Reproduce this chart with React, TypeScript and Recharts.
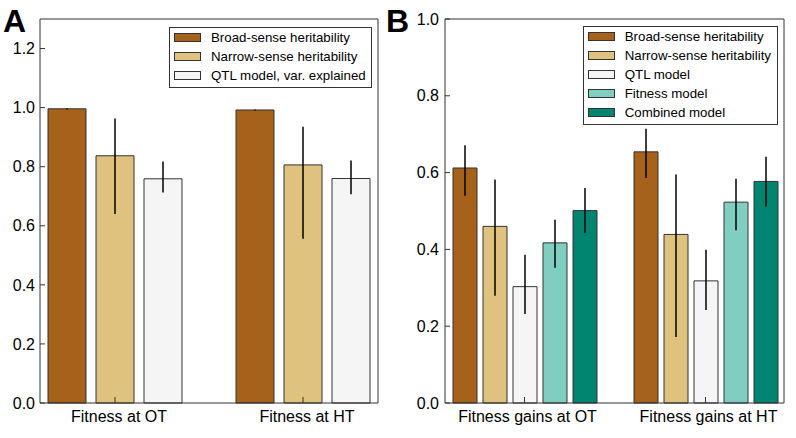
import { Bar, BarChart, ErrorBar, Legend, XAxis, YAxis } from "recharts";

const FONT = '"Liberation Sans", Arial, sans-serif';

// panel A
const categoriesA = ["Fitness at OT", "Fitness at HT"];
const broadA = [0.996, 0.992];
const broadALow = [0.994, 0.99];
const broadAHigh = [0.998, 0.994];
const narrowA = [0.837, 0.806];
const narrowALow = [0.64, 0.556];
const narrowAHigh = [0.963, 0.935];
const qtlA = [0.759, 0.76];
const qtlALow = [0.713, 0.707];
const qtlAHigh = [0.818, 0.821];
const yTicksA = [0, 0.2, 0.4, 0.6, 0.8, 1.0, 1.2];

// panel B
const categoriesB = ["Fitness gains at OT", "Fitness gains at HT"];
const broadB = [0.612, 0.654];
const broadBLow = [0.54, 0.586];
const broadBHigh = [0.671, 0.714];
const narrowB = [0.46, 0.439];
const narrowBLow = [0.279, 0.172];
const narrowBHigh = [0.582, 0.595];
const qtlB = [0.303, 0.318];
const qtlBLow = [0.232, 0.242];
const qtlBHigh = [0.386, 0.399];
const fitnessB = [0.417, 0.523];
const fitnessBLow = [0.352, 0.45];
const fitnessBHigh = [0.477, 0.584];
const combinedB = [0.501, 0.577];
const combinedBLow = [0.442, 0.512];
const combinedBHigh = [0.56, 0.641];
const yTicksB = [0, 0.2, 0.4, 0.6, 0.8, 1.0];

const colors = {
  broad: "#a6611a",
  narrow: "#dfc27d",
  qtl: "#f5f5f5",
  fitness: "#80cdc1",
  combined: "#018571",
};

type Series = {
  key: string;
  name: string;
  color: string;
  values: number[];
  low: number[];
  high: number[];
};

const seriesA: Series[] = [
  { key: "broad", name: "Broad-sense heritability", color: colors.broad, values: broadA, low: broadALow, high: broadAHigh },
  { key: "narrow", name: "Narrow-sense heritability", color: colors.narrow, values: narrowA, low: narrowALow, high: narrowAHigh },
  { key: "qtl", name: "QTL model, var. explained", color: colors.qtl, values: qtlA, low: qtlALow, high: qtlAHigh },
];

const seriesB: Series[] = [
  { key: "broad", name: "Broad-sense heritability", color: colors.broad, values: broadB, low: broadBLow, high: broadBHigh },
  { key: "narrow", name: "Narrow-sense heritability", color: colors.narrow, values: narrowB, low: narrowBLow, high: narrowBHigh },
  { key: "qtl", name: "QTL model", color: colors.qtl, values: qtlB, low: qtlBLow, high: qtlBHigh },
  { key: "fitness", name: "Fitness model", color: colors.fitness, values: fitnessB, low: fitnessBLow, high: fitnessBHigh },
  { key: "combined", name: "Combined model", color: colors.combined, values: combinedB, low: combinedBLow, high: combinedBHigh },
];

function buildRows(categories: string[], series: Series[]) {
  return categories.map((name, i) => {
    const row: Record<string, unknown> = { name };
    series.forEach((s) => {
      row[s.key] = s.values[i];
      row[s.key + "Err"] = [s.values[i] - s.low[i], s.high[i] - s.values[i]];
    });
    return row;
  });
}

const EDGE = "#333";

// legend in series order (recharts sorts by name otherwise)
const legendContent = (width: number, series: Series[]) => (props: any) => {
  const order = series.map((s) => s.name);
  const items = [...(props.payload || [])].sort(
    (a: any, b: any) => order.indexOf(a.value) - order.indexOf(b.value)
  );
  return (
    <div
      style={{
        width,
        boxSizing: "border-box",
        border: `1px solid ${EDGE}`,
        background: "#fff",
        padding: "0 0 2px 4px",
        fontFamily: FONT,
        fontSize: 13.3,
        color: "#000",
        textAlign: "left",
      }}
    >
      {items.map((item: any) => (
        <div key={item.value} style={{ display: "flex", alignItems: "center", height: 19 }}>
          <span
            style={{
              display: "inline-block",
              width: 27,
              height: 9,
              boxSizing: "border-box",
              background: item.color,
              border: `1px solid ${EDGE}`,
              marginRight: 10,
            }}
          />
          <span style={{ whiteSpace: "nowrap" }}>{item.value}</span>
        </div>
      ))}
    </div>
  );
};

type PanelProps = {
  categories: string[];
  series: Series[];
  yMax: number;
  yTicks: number[];
  margin: { top: number; right: number; bottom: number; left: number };
  pad: { left: number; right: number };
  barSize: number;
  barGap: number;
  barCategoryGap: number;
  labelShift: number;
  yTickMargin: number;
  legendBox: { left: number; top: number; width: number };
};

function Panel(p: PanelProps) {
  const rows = buildRows(p.categories, p.series);
  const axisLine = { stroke: EDGE, strokeWidth: 1 };
  return (
    <BarChart
      width={398}
      height={438}
      data={rows}
      margin={p.margin}
      barSize={p.barSize}
      barGap={p.barGap}
      barCategoryGap={p.barCategoryGap}
      style={{ fontFamily: FONT }}
    >
      <XAxis
        dataKey="name"
        height={1}
        padding={p.pad}
        interval={0}
        tickSize={-6}
        tickMargin={14}
        axisLine={axisLine}
        tickLine={axisLine}
        tick={{ fill: "#000", fontSize: 16, dx: p.labelShift }}
      />
      <XAxis
        xAxisId="top"
        dataKey="name"
        orientation="top"
        height={1}
        padding={p.pad}
        interval={0}
        tickSize={-6}
        axisLine={axisLine}
        tickLine={axisLine}
        tick={false}
      />
      <YAxis
        width={1}
        domain={[0, p.yMax]}
        ticks={p.yTicks}
        interval={0}
        tickSize={-5}
        tickMargin={p.yTickMargin}
        axisLine={axisLine}
        tickLine={axisLine}
        tick={{ fill: "#000", fontSize: 16 }}
        tickFormatter={(v: number) => v.toFixed(1)}
      />
      <YAxis
        yAxisId="r"
        orientation="right"
        width={1}
        domain={[0, p.yMax]}
        ticks={p.yTicks}
        interval={0}
        tickSize={-5}
        axisLine={axisLine}
        tickLine={axisLine}
        tick={false}
      />
      <Legend
        layout="horizontal"
        verticalAlign="middle"
        align="center"
        content={legendContent(p.legendBox.width, p.series)}
        wrapperStyle={{ left: p.legendBox.left, top: p.legendBox.top, width: p.legendBox.width }}
      />
      {p.series.map((s) => (
        <Bar
          key={s.key}
          dataKey={s.key}
          name={s.name}
          fill={s.color}
          stroke={EDGE}
          strokeWidth={1}
          isAnimationActive={false}
        >
          <ErrorBar
            dataKey={s.key + "Err"}
            direction="y"
            width={0}
            stroke="#000"
            strokeWidth={1.5}
            isAnimationActive={false}
          />
        </Bar>
      ))}
    </BarChart>
  );
}

const panelLabel = (left: number): React.CSSProperties => ({
  position: "absolute",
  left,
  top: 5,
  fontFamily: FONT,
  fontWeight: "bold",
  fontSize: 32,
  lineHeight: "32px",
  color: "#000",
});

export default function App() {
  return (
    <div style={{ position: "absolute", left: 0, top: 0, width: 796, height: 438, background: "#fff" }}>
      <div style={{ position: "absolute", left: 0, top: 0 }}>
        <Panel
          categories={categoriesA}
          series={seriesA}
          yMax={1.3}
          yTicks={yTicksA}
          margin={{ top: 18, right: 19, bottom: 34, left: 39 }}
          pad={{ left: -19, right: -19 }}
          barSize={38}
          barGap={10}
          barCategoryGap={27}
          labelShift={4}
          yTickMargin={10}
          legendBox={{ left: 169, top: 26.5, width: 203 }}
        />
      </div>
      <div style={{ position: "absolute", left: 398, top: 0 }}>
        <Panel
          categories={categoriesB}
          series={seriesB}
          yMax={1.0}
          yTicks={yTicksB}
          margin={{ top: 18, right: 11, bottom: 34, left: 46 }}
          pad={{ left: -11, right: -12 }}
          barSize={24}
          barGap={6}
          barCategoryGap={18.5}
          labelShift={3}
          yTickMargin={11}
          legendBox={{ left: 184.7, top: 26, width: 195 }}
        />
      </div>
      <div style={panelLabel(3)}>A</div>
      <div style={panelLabel(386)}>B</div>
    </div>
  );
}
